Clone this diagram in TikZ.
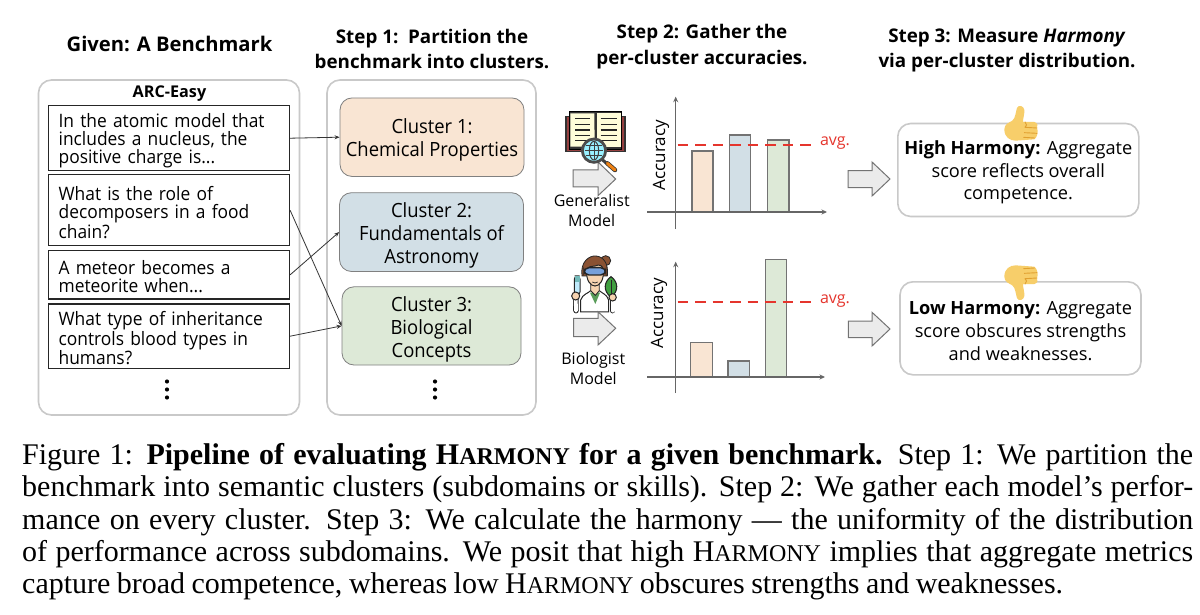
\documentclass[tikz,border=0pt]{standalone}
\usepackage{fontspec}
\setmainfont{Liberation Serif}
\newfontfamily\uisans{Open Sans}
\newfontfamily\uibody[FakeStretch=0.94]{Open Sans}
\usetikzlibrary{arrows.meta}
\definecolor{peach}{HTML}{F9E5D3}
\definecolor{bluegray}{HTML}{D2DFE6}
\definecolor{sage}{HTML}{DDE9D7}
\definecolor{panelline}{HTML}{C9C9C9}
\definecolor{avgred}{HTML}{E5352D}
\definecolor{axisgray}{HTML}{666666}
\definecolor{thumby}{HTML}{F7CE6A}
\definecolor{thumbo}{HTML}{E0A030}
\definecolor{skin}{HTML}{F6D3B0}
\definecolor{hair}{HTML}{8A5233}
\newcommand{\hrmsc}{H{\fontsize{24}{24}\selectfont ARMONY}}
\newcommand{\dnc}{\rule{0pt}{21pt}}
\newcommand{\dnr}{\rule{0pt}{18.5pt}}
\newcommand{\dnq}{\rule{0pt}{18.5pt}}
\newcommand{\thumbshape}{%
  \fill[thumby] (28,88) .. controls (28,72) and (42,68) .. (52,62)
    .. controls (62,54) and (62,35) .. (66,24) .. controls (70,14) and (86,16) .. (88,30)
    .. controls (89,42) and (84,54) .. (84,66) -- (118,66)
    .. controls (128,68) and (130,78) .. (126,84) .. controls (130,92) and (128,112) .. (118,118)
    -- (62,122) .. controls (45,122) and (28,112) .. (28,88) -- cycle;
  \draw[thumbo,line width=.9pt,line cap=round] (90,66) .. controls (96,72) and (96,78) .. (90,82) (90,82) -- (126,84)
    (88,98) -- (126,100) (86,112) -- (118,114);
}
\newcommand{\capline}[2]{\makebox[#1pt][s]{#2}}
\tikzset{
  panel/.style={draw=panelline,line width=1.6pt,rounded corners=13pt,fill=white},
  qbox/.style={draw=black!85,line width=1.1pt,minimum width=241pt,inner sep=0pt,font=\uibody\fontsize{18.5}{18}\selectfont,align=left,text width=221pt},
  cluster/.style={draw=black!50,line width=.8pt,rounded corners=12pt,font=\uibody\fontsize{19.6}{23}\selectfont,align=center,inner sep=0pt},
  heading/.style={font=\uisans\bfseries\fontsize{18.8}{25.5}\selectfont,align=center,inner sep=0pt},
  result/.style={draw=panelline,line width=1.6pt,rounded corners=13pt,font=\uisans\fontsize{18.2}{22.6}\selectfont,align=center,inner sep=0pt,minimum width=241pt,minimum height=93pt},
  link/.style={draw=black!80,line width=.8pt,-{Stealth[length=5pt,width=4pt]}},
  bararrow/.style={draw=black!55,line width=1pt,fill=black!8},
  bar/.style={draw=black!55,line width=1.1pt},
  axis/.style={draw=axisgray,line width=1.3pt,-{Stealth[length=5.5pt,width=5pt]}},
  avgline/.style={draw=avgred,line width=2.6pt,dash pattern=on 10.5pt off 7pt},
  avgtext/.style={text=avgred,font=\uisans\fontsize{16}{16}\selectfont,inner sep=0pt},
  axtext/.style={font=\uisans\fontsize{17}{17}\selectfont,rotate=90,inner sep=0pt},
  modeltext/.style={font=\uisans\fontsize{16}{20}\selectfont,align=center,inner sep=0pt},
  vdot/.style={fill=black,circle,inner sep=0pt,minimum size=4.2pt},
}
\begin{document}
\begin{tikzpicture}[x=1pt,y=-1pt]
\useasboundingbox (0,0) rectangle (1200,615);
\fill[white] (0,0) rectangle (1200,615);
% headings
\node[heading,font=\uisans\bfseries\fontsize{20.2}{25.5}\selectfont] (h0) at (169.5,44) {Given: A Benchmark};
\node[heading] (h1) at (432,49) {Step 1:\ \ Partition the\\benchmark into clusters.};
\node[heading] (h2) at (702,46.5) {Step 2: Gather the\\per-cluster accuracies.};
\node[heading] (h3) at (1007,50.5) {Step 3: Measure \textit{Harmony}\\via per-cluster distribution.};
% panels
\draw[panel] (38.5,80) rectangle (299.5,415);
\draw[panel] (327,80) rectangle (536,415);
\node[font=\uisans\bfseries\fontsize{16.2}{17}\selectfont,inner sep=0pt] (arc) at (169.5,94) {ARC-Easy};
% questions
\node[qbox,minimum height=64.5pt] (q1) at (169.1,138.2) {\dnq In the atomic model that\\includes a nucleus, the\\positive charge is...};
\node[qbox,minimum height=70.7pt] (q2) at (169.1,210.3) {\dnq What is the role of\\decomposers in a food\\chain?};
\node[qbox,minimum height=48.3pt] (q3) at (169.1,274.8) {\dnq A meteor becomes a\\meteorite when...};
\node[qbox,minimum height=64.5pt] (q4) at (169.1,336.2) {\dnq What type of inheritance\\controls blood types in\\humans?};
% clusters
\node[cluster,fill=peach,minimum width=184pt,minimum height=78.5pt] (c1) at (432,137.2) {\dnc Cluster 1:\\Chemical Properties};
\node[cluster,fill=bluegray,minimum width=184pt,minimum height=78.8pt] (c2) at (431.5,232.1) {\dnc Cluster 2:\\Fundamentals of\\Astronomy};
\node[cluster,fill=sage,minimum width=179pt,minimum height=78.2pt] (c3) at (431.5,325.9) {\dnc Cluster 3:\\Biological\\Concepts};
% links
\draw[link] (q1.east) -- (c1.west);
\draw[link] (q2.east) -- (c3.west);
\draw[link] (q3.east) -- (c2.west);
\draw[link] (q4.east) -- (c3.west);
% dots
\foreach \n/\x in {a/167,b/435}{
  \node[vdot] (dots\n1) at (\x,381.5) {};
  \node[vdot] (dots\n2) at (\x,389.5) {};
  \node[vdot] (dots\n3) at (\x,397.5) {};
}
% arrow under the book icon
\draw[bararrow] (573,170) -- (598,170) -- (598,162) -- (615.7,179) -- (598,195.7) -- (598,187) -- (573,187) -- cycle;
% book icon
\begin{scope}[shift={(560,100)},x=.3333pt,y=-.3333pt]
  \fill[fill=black!80] (15,48) rectangle (197,157);
  \fill[fill=red!45!black!75] (20,52) rectangle (192,152);
  \draw[line width=1pt,fill=black!80] (28,35) rectangle (186,148);
  \fill[fill=yellow!15!white] (31,40) -- (103,40) -- (104,140) -- (31,140) -- cycle;
  \fill[fill=yellow!15!white] (110,40) -- (183,40) -- (183,140) -- (110,140) -- cycle;
  \foreach \y in {56,73,90,106,122}{
    \draw[line width=1.3pt,black!85] (45,\y) -- (90,\y);
    \draw[line width=1.3pt,black!85] (122,\y) -- (170,\y);
  }
  \draw[line width=3pt,line cap=round,black!75] (128,180) -- (142,192);
  \draw[line width=4.5pt,line cap=round,black!80] (142,190) -- (165,210);
  \draw[line width=3pt,line cap=round,orange!70!brown] (142,190) -- (165,210);
  \draw[line width=2.8pt,draw=black!70,fill=blue!15!cyan!40!white] (102,152) circle[radius=35];
  \draw[line width=1pt,black!75] (102,152) circle[x radius=14,y radius=28];
  \draw[line width=1pt,black!75] (74,152) -- (130,152) (79,136) -- (125,136) (79,168) -- (125,168) (102,124) -- (102,180);
\end{scope}
% scientist icon
\begin{scope}[shift={(560,250)},x=.3333pt,y=-.3333pt]
  \draw[line width=.8pt,black!85,fill=hair] (137,32) circle[radius=15];
  \draw[line width=.8pt,black!85,fill=hair] (66,78) .. controls (60,35) and (88,16) .. (108,18) .. controls (132,20) and (146,42) .. (142,78) -- cycle;
  % coat
  \draw[line width=1pt,black!85,fill=white] (62,186) -- (62,150) .. controls (68,132) and (85,130) .. (92,122) -- (118,122) .. controls (126,130) and (140,132) .. (146,150) -- (146,186) -- cycle;
  \fill[green!40!black!65] (90,128) -- (120,128) -- (106,162) -- cycle;
  \draw[line width=.8pt,black!85,fill=skin] (92,100) -- (92,122) -- (106,136) -- (118,122) -- (118,100) -- cycle;
  % face
  \draw[line width=1pt,black!85,fill=skin] (80,62) .. controls (78,92) and (92,108) .. (105,108) .. controls (118,108) and (132,92) .. (130,62) .. controls (128,45) and (118,42) .. (105,48) .. controls (95,50) and (82,48) .. (80,62) -- cycle;
  \draw[line width=1.4pt,black!85,rounded corners=5pt,fill=cyan!50!blue!55!white] (72,53) rectangle (137,75);
  \draw[line width=.7pt,black!85] (97,96) .. controls (102,100) and (108,100) .. (113,96);
  % arms
  \draw[line width=5.5pt,black!85,line cap=round] (48,182) -- (47,138);
  \draw[line width=3.8pt,white,line cap=round] (48,182) -- (47,138);
  \draw[line width=5.5pt,black!85,line cap=round] (158,182) -- (158,142);
  \draw[line width=3.8pt,white,line cap=round] (158,182) -- (158,142);
  \draw[line width=1pt,black!85,rounded corners=3pt,fill=cyan!25!white] (43,78) rectangle (60,135);
  \fill[teal!55!white] (44,79) rectangle (59,95);
  \draw[line width=1pt,black!85,fill=skin] (47,138) circle[radius=12];
  \draw[line width=1.1pt,black!85,fill=green!50!black!75] (153,80) .. controls (132,95) and (128,122) .. (153,142) .. controls (178,122) and (174,95) .. (153,80) -- cycle;
  \draw[line width=.7pt,black!85] (153,90) -- (153,150);
  \draw[line width=1pt,black!85,fill=skin] (158,142) circle[radius=11];
\end{scope}
% arrow under the scientist
\draw[bararrow] (573.5,318.3) -- (598,318.3) -- (598,311.7) -- (615.7,328.3) -- (598,345) -- (598,336.7) -- (573.5,336.7) -- cycle;
\node[modeltext] (m1) at (591.7,210.5) {Generalist\\Model};
\node[modeltext] (m2) at (593.3,368) {Biologist\\Model};
% chart 1
\draw[bar,fill=peach] (692,212) rectangle (713,151);
\draw[bar,fill=bluegray] (729.7,212) rectangle (750.7,135);
\draw[bar,fill=sage] (767.7,212) rectangle (789,140);
\coordinate (ax1b) at (675.7,229);
\coordinate (ax1t) at (675.7,96.7);
\coordinate (ax1l) at (647,212);
\coordinate (ax1r) at (827,212);
\draw[axis] (ax1b) -- (ax1t);
\draw[axis] (ax1l) -- (ax1r);
\coordinate (av1a) at (677.7,145);
\coordinate (av1b) at (815,145);
\draw[avgline] (av1a) -- (av1b);
\node[avgtext] (av1) at (835,143) {avg.};
\node[axtext] (ac1) at (661,155) {Accuracy};
% chart 2
\draw[bar,fill=peach] (690.7,377) rectangle (712.3,342.7);
\draw[bar,fill=bluegray] (728,377) rectangle (749.3,361);
\draw[bar,fill=sage] (765.3,377) rectangle (786.7,259.7);
\coordinate (ax2b) at (675.7,393);
\coordinate (ax2t) at (675.7,261.7);
\coordinate (ax2l) at (647,377);
\coordinate (ax2r) at (825,377);
\draw[axis] (ax2b) -- (ax2t);
\draw[axis] (ax2l) -- (ax2r);
\coordinate (av2a) at (677.7,302);
\coordinate (av2b) at (815,302);
\draw[avgline] (av2a) -- (av2b);
\node[avgtext] (av2) at (835,301) {avg.};
\node[axtext] (ac2) at (659,313) {Accuracy};
% arrows to results
\draw[bararrow] (848,170.7) -- (872,170.7) -- (872,162) -- (890,179) -- (872,196) -- (872,187.7) -- (848,187.7) -- cycle;
\draw[bararrow] (848.3,321) -- (872,321) -- (872,312.3) -- (890,329) -- (872,346) -- (872,337.7) -- (848.3,337.7) -- cycle;
% results
\node[result] (r1) at (1018.3,170) {\dnr\textbf{High Harmony:} Aggregate\\score reflects overall\\competence.};
\node[result] (r2) at (1020.5,328.3) {\dnr\textbf{Low Harmony:} Aggregate\\score obscures strengths\\and weaknesses.};
% thumbs
\begin{scope}[shift={(995,100)},x=.3333pt,y=-.3333pt]
  \thumbshape
\end{scope}
\begin{scope}[shift={(995,306)},x=.3333pt,y=.3333pt]
  \thumbshape
\end{scope}
% caption
\node[anchor=north west,inner sep=0pt,align=left,font=\fontsize{30}{32.4}\selectfont] (cap) at (22,443) {%
\capline{1171}{Figure 1: \textbf{Pipeline of evaluating \hrmsc{} for a given benchmark.} Step 1: We partition the}\\
\capline{1171}{benchmark into semantic clusters (subdomains or skills). Step 2: We gather each model’s perfor-}\\
\capline{1171}{mance on every cluster. Step 3: We calculate the harmony — the uniformity of the distribution}\\
\capline{1171}{of performance across subdomains. We posit that high \hrmsc{} implies that aggregate metrics}\\
\capline{1041}{capture broad competence, whereas low \hrmsc{} obscures strengths and weaknesses.}};
\end{tikzpicture}
\end{document}
